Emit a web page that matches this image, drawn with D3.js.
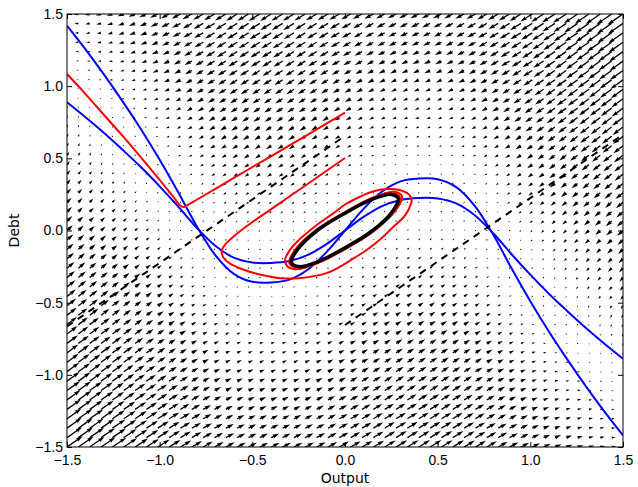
<!DOCTYPE html>
<html lang="en">
<head>
<meta charset="UTF-8">
<title>Output / Debt phase plane</title>
<style>
  body { margin: 0; background: #fff; }
  svg { display: block; font-family: "DejaVu Sans", sans-serif; }
  .tick text { font-size: 14px; fill: #000; }
  .label { font-size: 14px; fill: #000; }
</style>
</head>
<body>
<svg id="chart" width="638" height="487"></svg>
<script src="https://cdnjs.cloudflare.com/ajax/libs/d3/7.9.0/d3.min.js"></script>
<script>
// ---- data ----
const TICKS = [-1.5, -1.0, -0.5, 0.0, 0.5, 1.0, 1.5];

// nullclines, sampled at these output values
const NULL_X = [-1.5, -1.4, -1.3, -1.2, -1.1, -1.0, -0.9, -0.8, -0.7, -0.6, -0.5, -0.4, -0.3, -0.2, -0.1, 0.0,
                 0.1, 0.2, 0.3, 0.4, 0.5, 0.6, 0.7, 0.8, 0.9, 1.0, 1.1, 1.2, 1.3, 1.4, 1.5];
// steep one (debt nullcline)
const NULL_A = [1.42, 1.255, 1.08, 0.895, 0.70, 0.49, 0.265, 0.03, -0.17, -0.30, -0.355, -0.36, -0.34, -0.27, -0.15, 0.0,
                0.15, 0.27, 0.34, 0.36, 0.355, 0.30, 0.17, -0.03, -0.265, -0.49, -0.70, -0.895, -1.08, -1.255, -1.42];
// flat one (output nullcline)
const NULL_B = [0.888, 0.784, 0.675, 0.559, 0.438, 0.306, 0.166, 0.019, -0.106, -0.188, -0.222, -0.225, -0.212, -0.169, -0.094, 0.0,
                0.094, 0.169, 0.212, 0.225, 0.222, 0.188, 0.106, -0.019, -0.166, -0.306, -0.438, -0.559, -0.675, -0.784, -0.888];

// dashed separatrix guides
const SEP_LEFT = [[-1.5, -0.665], [0.0, 0.655]];
const SEP_RIGHT = [[0.0, -0.655], [1.5, 0.665]];

// trajectory from (0, 0.8)
const TRAJ_1 = [[0.0, 0.816], [-0.2, 0.665], [-0.4, 0.514], [-0.6, 0.364], [-0.8, 0.213], [-0.85, 0.176],
                [-0.872, 0.162], [-0.89, 0.175], [-0.93, 0.24], [-1.0, 0.35], [-1.1, 0.505], [-1.2, 0.655],
                [-1.3, 0.80], [-1.4, 0.945], [-1.5, 1.084]];

// trajectory from (0, 0.5), winding onto the cycle
const TRAJ_2 = [[0.0, 0.502], [-0.2, 0.324], [-0.4, 0.146], [-0.52, 0.04], [-0.6, -0.04], [-0.645, -0.095],
                [-0.665, -0.14], [-0.655, -0.19], [-0.62, -0.23], [-0.55, -0.27], [-0.46, -0.305], [-0.35, -0.33],
                [-0.25, -0.33], [-0.1, -0.295], [-0.027, -0.251], [0.05, -0.19], [0.117, -0.135], [0.2, -0.05],
                [0.261, 0.026], [0.315, 0.09], [0.342, 0.142], [0.36, 0.211], [0.345, 0.25], [0.315, 0.272],
                [0.27, 0.285], [0.225, 0.287], [0.15, 0.27], [0.081, 0.234], [0.0, 0.18], [-0.063, 0.119],
                [-0.14, 0.05], [-0.207, -0.019], [-0.26, -0.08], [-0.297, -0.135], [-0.324, -0.204],
                [-0.31, -0.25], [-0.27, -0.268], [-0.155, -0.23], [0.0, -0.13], [0.16, 0.0], [0.273, 0.139],
                [0.308, 0.235], [0.268, 0.268], [0.155, 0.23], [0.0, 0.128], [-0.16, 0.0], [-0.273, -0.139],
                [-0.30, -0.228], [-0.258, -0.258], [-0.15, -0.221], [0.0, -0.124], [0.155, 0.0], [0.263, 0.134],
                [0.297, 0.227], [0.258, 0.258], [0.15, 0.221], [0.0, 0.124]];

// limit cycle
const CYCLE = [[0.288, 0.22], [0.25, 0.25], [0.145, 0.215], [0.0, 0.12], [-0.15, 0.0], [-0.255, -0.13],
               [-0.29, -0.22], [-0.25, -0.25], [-0.145, -0.215], [0.0, -0.12], [0.15, 0.0], [0.255, 0.13]];

// vector field: d(output)/dt = RATE_OUT*(B(x)-y), d(debt)/dt = RATE_DEBT*(A(x)-y)
const RATE_OUT = 1.0;
const RATE_DEBT = 0.57;
const GRID_NX = 50;
const GRID_NY = 47;

// ---- layout ----
const svg = d3.select('#chart');
const box = { left: 67, right: 623, top: 14, bottom: 447 };

const x = d3.scaleLinear().domain([-1.5, 1.5]).range([box.left, box.right]);
const y = d3.scaleLinear().domain([-1.5, 1.5]).range([box.bottom, box.top]);

const nullA = d3.scaleLinear().domain(NULL_X).range(NULL_A);
const nullB = d3.scaleLinear().domain(NULL_X).range(NULL_B);

svg.append('defs').append('clipPath').attr('id', 'plot-clip')
    .append('rect').attr('x', box.left).attr('y', box.top)
    .attr('width', box.right - box.left).attr('height', box.bottom - box.top);

const plot = svg.append('g').attr('clip-path', 'url(#plot-clip)');

// ---- quiver ----
const gxs = d3.range(GRID_NX).map(i => -1.5 + 3 * i / (GRID_NX - 1));
const gys = d3.range(GRID_NY).map(j => -1.5 + 3 * j / (GRID_NY - 1));
const vecs = [];
gys.forEach(gy => gxs.forEach(gx => {
    const u = RATE_OUT * (nullB(gx) - gy);
    const v = RATE_DEBT * (nullA(gx) - gy);
    vecs.push({ gx, gy, u, v, m: Math.hypot(u, v) });
}));

// matplotlib-like autoscale
const span = box.right - box.left;
const amean = d3.mean(vecs, d => d.m);
const pxPerUnit = span / (1.8 * Math.sqrt(vecs.length) * amean);
const w = 0.06 * span / 25;
const hl = 5 * w, hal = 4.5 * w, hw = 3 * w;

function arrowPath(d) {
    const L = d.m * pxPerUnit;
    const x0 = x(d.gx), y0 = y(d.gy);
    if (L < w) {
        const r = w / 2;
        return d3.range(6).map(k => {
            const a = k * Math.PI / 3;
            return (k ? 'L' : 'M') + (x0 + r * Math.cos(a)).toFixed(2) + ',' + (y0 + r * Math.sin(a)).toFixed(2);
        }).join('') + 'Z';
    }
    let pts;
    if (L < hl) {
        const s = L / hl;
        pts = [[0, -w / 2], [hl - hal, -w / 2], [0, -hw / 2], [hl, 0], [0, hw / 2], [hl - hal, w / 2], [0, w / 2]]
            .map(p => [p[0] * s, p[1] * s]);
    } else {
        pts = [[0, -w / 2], [L - hal, -w / 2], [L - hl, -hw / 2], [L, 0], [L - hl, hw / 2], [L - hal, w / 2], [0, w / 2]];
    }
    const ang = Math.atan2(-d.v, d.u);
    const c = Math.cos(ang), s = Math.sin(ang);
    return pts.map((p, k) => (k ? 'L' : 'M') + (x0 + p[0] * c - p[1] * s).toFixed(2) + ',' + (y0 + p[0] * s + p[1] * c).toFixed(2)).join('') + 'Z';
}

plot.append('g').selectAll('path').data(vecs).enter().append('path')
    .attr('d', arrowPath)
    .attr('fill', '#000');

// ---- curves ----
const line = d3.line().x(d => x(d[0])).y(d => y(d[1])).curve(d3.curveCatmullRom);

const pairs = (xs, ys) => xs.map((v, i) => [v, ys[i]]);

plot.append('path').datum(pairs(NULL_X, NULL_A)).attr('d', line)
    .attr('fill', 'none').attr('stroke', '#0000ff').attr('stroke-width', 2);
plot.append('path').datum(pairs(NULL_X, NULL_B)).attr('d', line)
    .attr('fill', 'none').attr('stroke', '#0000ff').attr('stroke-width', 2);

[TRAJ_1, TRAJ_2].forEach(t => {
    plot.append('path').datum(t).attr('d', line)
        .attr('fill', 'none').attr('stroke', '#ff0000').attr('stroke-width', 2);
});

[SEP_LEFT, SEP_RIGHT].forEach(s => {
    plot.append('path').datum(s).attr('d', d3.line().x(d => x(d[0])).y(d => y(d[1])))
        .attr('fill', 'none').attr('stroke', '#000').attr('stroke-width', 2)
        .attr('stroke-dasharray', '7,6');
});

plot.append('path').datum(CYCLE)
    .attr('d', d3.line().x(d => x(d[0])).y(d => y(d[1])).curve(d3.curveCatmullRomClosed))
    .attr('fill', 'none').attr('stroke', '#000').attr('stroke-width', 3.5);

// ---- axes (ticks inside on all four sides) ----
const fmt = d3.format('.1f');
svg.append('g').attr('transform', `translate(0,${box.bottom})`)
    .call(d3.axisBottom(x).tickValues(TICKS).tickFormat(fmt).tickSize(-5).tickPadding(8));
svg.append('g').attr('transform', `translate(${box.left},0)`)
    .call(d3.axisLeft(y).tickValues(TICKS).tickFormat(fmt).tickSize(-5).tickPadding(4));
svg.append('g').attr('transform', `translate(0,${box.top})`)
    .call(d3.axisTop(x).tickValues(TICKS).tickFormat('').tickSize(-5));
svg.append('g').attr('transform', `translate(${box.right},0)`)
    .call(d3.axisRight(y).tickValues(TICKS).tickFormat('').tickSize(-5));
svg.selectAll('.domain').remove();
svg.selectAll('.tick line').attr('stroke', '#000');

svg.append('rect').attr('x', box.left).attr('y', box.top)
    .attr('width', box.right - box.left).attr('height', box.bottom - box.top)
    .attr('fill', 'none').attr('stroke', '#000').attr('stroke-width', 1);

svg.append('text').attr('class', 'label').attr('x', (box.left + box.right) / 2).attr('y', 483)
    .attr('text-anchor', 'middle').text('Output');
svg.append('text').attr('class', 'label')
    .attr('transform', `translate(19,${(box.top + box.bottom) / 2}) rotate(-90)`)
    .attr('text-anchor', 'middle').text('Debt');
</script>
</body>
</html>
